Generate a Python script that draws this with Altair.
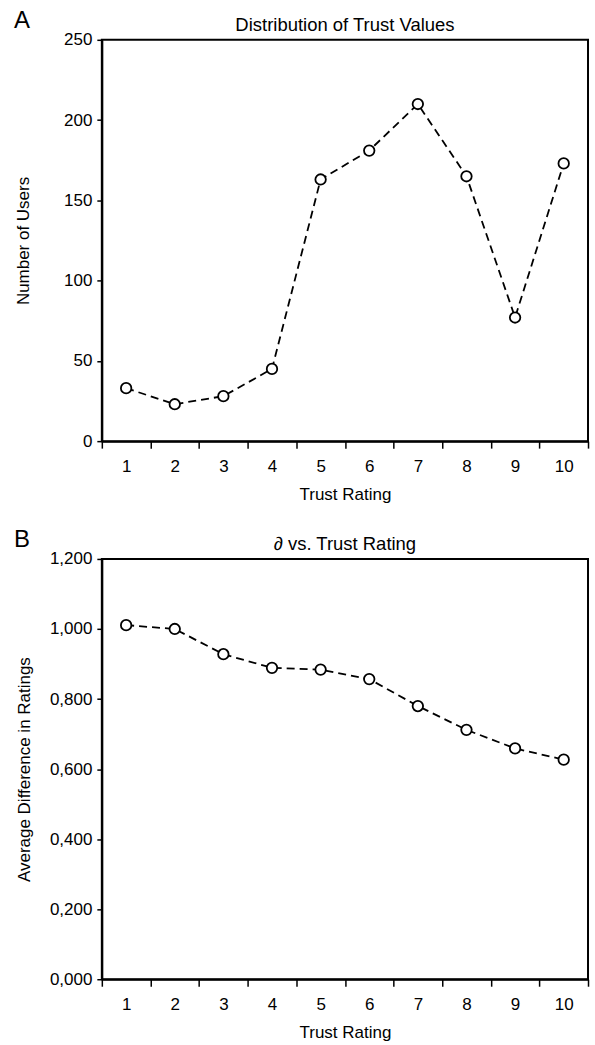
import altair as alt
import pandas as pd

ratings = [1, 2, 3, 4, 5, 6, 7, 8, 9, 10]
users = [33, 23, 28, 45, 163, 181, 210, 165, 77, 173]
avg_diff = [1.011, 1.000, 0.928, 0.889, 0.884, 0.857, 0.780, 0.712, 0.659, 0.627]

df_a = pd.DataFrame({"rating": ratings, "value": users})
df_b = pd.DataFrame({"rating": ratings, "value": avg_diff})

FONT = "Liberation Sans"
W = 487


def x_enc():
    return alt.X(
        "rating:O",
        bandPosition=0.5,
        scale=alt.Scale(type="band", paddingInner=0, paddingOuter=0),
        axis=alt.Axis(
            title="Trust Rating", labelAngle=0, tickBand="extent",
            labelPadding=10, titlePadding=12, tickSize=7,
        ),
    )


def panel(df, title, letter, ytitle, ydomain, yticks, ylabel_expr, height, title_pad):
    base = alt.Chart(df)
    y = alt.Y(
        "value:Q",
        scale=alt.Scale(domain=ydomain, nice=False, zero=True),
        axis=alt.Axis(
            title=ytitle, values=yticks, labelExpr=ylabel_expr,
            tickSize=5, labelPadding=5, titlePadding=title_pad,
        ),
    )
    line = base.mark_line(color="black", strokeWidth=1.8, strokeDash=[8, 5]).encode(x=x_enc(), y=y)
    pts = base.mark_point(
        shape="circle", filled=True, fill="white", stroke="black",
        strokeWidth=1.8, size=110, opacity=1,
    ).encode(x=x_enc(), y=y)
    lab = alt.Chart(pd.DataFrame({"t": [letter]})).mark_text(
        font=FONT, fontSize=24, align="left", baseline="alphabetic", color="black"
    ).encode(text="t:N", x=alt.value(-88), y=alt.value(-12))
    ttl = alt.Chart(pd.DataFrame({"t": [title]})).mark_text(
        font=FONT, fontSize=18.5, align="center", baseline="alphabetic", color="black"
    ).encode(text="t:N", x=alt.value(W / 2), y=alt.value(-9))
    return alt.layer(line, pts, lab, ttl).properties(width=W, height=height)


a = panel(df_a, "Distribution of Trust Values", "A", "Number of Users",
          [0, 250], [0, 50, 100, 150, 200, 250], "datum.label", 402, 31)
b = panel(df_b, "\u2202 vs. Trust Rating", "B", "Average Difference in Ratings",
          [0, 1.2], [0, 0.2, 0.4, 0.6, 0.8, 1.0, 1.2],
          "replace(format(datum.value, '.3f'), '.', ',')", 421, 16)

chart = alt.vconcat(a, b, spacing=24).properties(
    padding={"left": 13, "top": 7, "right": 5, "bottom": 5},
    background="white",
).configure_view(
    stroke="black", strokeWidth=2
).configure_axis(
    grid=False, domainColor="black", domainWidth=2, tickColor="black", tickWidth=1.5,
    labelFont=FONT, labelFontSize=17, labelColor="black",
    titleFont=FONT, titleFontSize=17, titleFontWeight="normal", titleColor="black",
)

chart.save("out.html", embed_options={"renderer": "svg", "actions": False})
